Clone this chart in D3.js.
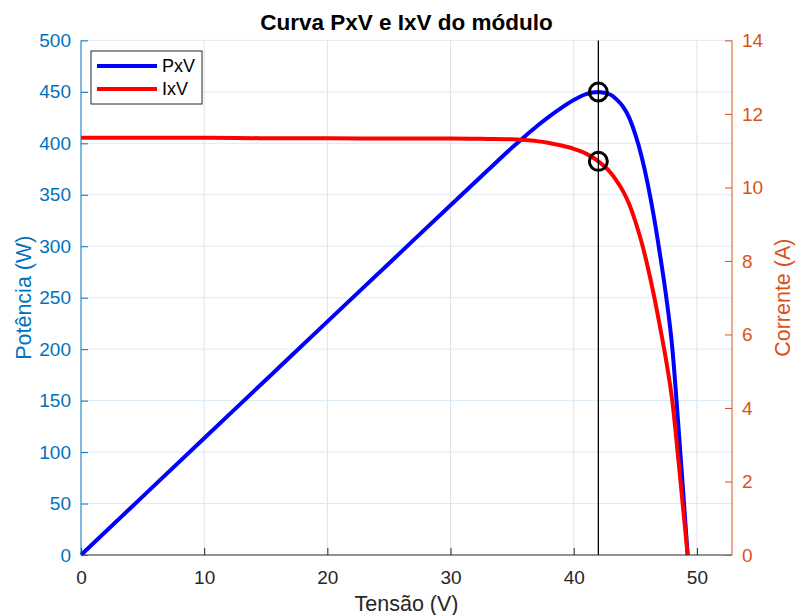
<!DOCTYPE html>
<html>
<head>
<meta charset="utf-8">
<script src="https://cdn.jsdelivr.net/npm/d3@7"></script>
<style>
  html, body { margin: 0; padding: 0; background: #ffffff; }
  svg { display: block; font-family: "Liberation Sans", Arial, Helvetica, sans-serif; }
</style>
</head>
<body>
<svg id="chart" width="796" height="615"></svg>
<script>
// Module operating curve: voltage (V), current (A) and power (W)
const voltage = [0, 5, 10, 15, 20, 25, 30, 33, 35, 36, 37, 38, 39, 40, 41, 42, 43, 43.5, 44, 44.5, 45, 45.5, 46, 46.5, 47, 47.5, 48, 48.5, 49, 49.25];
const current = [11.35, 11.35, 11.35, 11.34, 11.34, 11.33, 11.33, 11.32, 11.31, 11.29, 11.26, 11.21, 11.14, 11.05, 10.92, 10.71, 10.40, 10.17, 9.90, 9.55, 9.08, 8.52, 7.85, 7.08, 6.22, 5.30, 4.20, 2.58, 0.86, 0];
const power   = [0, 56.75, 113.5, 170.1, 226.8, 283.25, 339.9, 373.56, 395.85, 406.44, 416.62, 425.98, 434.46, 442.0, 447.72, 449.82, 447.2, 442.4, 435.6, 424.98, 408.6, 387.66, 361.1, 329.22, 292.34, 251.75, 201.6, 125.13, 42.14, 0];

// Maximum power point
const mppVoltage = 42.0;
const mppPower = 449.8;
const mppCurrent = 10.71;

const xTicks = [0, 10, 20, 30, 40, 50];
const powerTicks = [0, 50, 100, 150, 200, 250, 300, 350, 400, 450, 500];
const currentTicks = [0, 2, 4, 6, 8, 10, 12, 14];

const legendLabels = ["PxV", "IxV"];

const titleText = "Curva PxV e IxV do módulo";
const xLabel = "Tensão (V)";
const leftLabel = "Potência (W)";
const rightLabel = "Corrente (A)";

// ---- layout ----
const W = 796, H = 615;
const plot = { left: 81, right: 732, top: 40.4, bottom: 555 };
const leftColor = "#0072BD";
const rightColor = "#D95319";
const axisGray = "#262626";
const tickFont = 19;
const labelFont = 21.5;

const svg = d3.select("#chart");
svg.append("rect").attr("width", W).attr("height", H).attr("fill", "#ffffff");

const x = d3.scaleLinear().domain([0, 52.85]).range([plot.left, plot.right]);
const yP = d3.scaleLinear().domain([0, 500]).range([plot.bottom, plot.top]);
const yI = d3.scaleLinear().domain([0, 14]).range([plot.bottom, plot.top]);

// ---- grid ----
const grid = svg.append("g");
grid.selectAll("line.gx").data(xTicks.filter(d => d > 0)).join("line")
  .attr("x1", d => x(d)).attr("x2", d => x(d))
  .attr("y1", plot.top).attr("y2", plot.bottom)
  .attr("stroke", "#dfe2e6").attr("stroke-width", 1);
grid.selectAll("line.gy").data(powerTicks.filter(d => d > 0)).join("line")
  .attr("x1", plot.left).attr("x2", plot.right)
  .attr("y1", d => yP(d)).attr("y2", d => yP(d))
  .attr("stroke", "#dcebf6").attr("stroke-width", 1);

// ---- curves ----
const pts = voltage.map((v, i) => ({ v, i: current[i], p: power[i] }));

const powerLine = d3.line().x(d => x(d.v)).y(d => yP(d.p)).curve(d3.curveMonotoneX);
const currentLine = d3.line().x(d => x(d.v)).y(d => yI(d.i)).curve(d3.curveMonotoneX);

svg.append("path").datum(pts).attr("d", powerLine)
  .attr("fill", "none").attr("stroke", "#0000ff").attr("stroke-width", 4)
  .attr("stroke-linejoin", "round");
svg.append("path").datum(pts).attr("d", currentLine)
  .attr("fill", "none").attr("stroke", "#ff0000").attr("stroke-width", 4)
  .attr("stroke-linejoin", "round");

// ---- MPP marker line and circles ----
svg.append("line")
  .attr("x1", x(mppVoltage)).attr("x2", x(mppVoltage))
  .attr("y1", plot.top).attr("y2", plot.bottom)
  .attr("stroke", "#000").attr("stroke-width", 1.3);
svg.append("circle").attr("cx", x(mppVoltage)).attr("cy", yP(mppPower)).attr("r", 9)
  .attr("fill", "none").attr("stroke", "#000").attr("stroke-width", 3);
svg.append("circle").attr("cx", x(mppVoltage)).attr("cy", yI(mppCurrent)).attr("r", 9)
  .attr("fill", "none").attr("stroke", "#000").attr("stroke-width", 3);

// ---- axes ----
function styleAxis(g, color) {
  g.selectAll(".domain").remove();
  g.selectAll(".tick line").attr("stroke", color);
  g.selectAll(".tick text").attr("fill", color)
    .style("font-size", tickFont + "px")
    .style("font-family", "'Liberation Sans', Arial, sans-serif");
}

const gx = svg.append("g").attr("transform", `translate(0,${plot.bottom})`)
  .call(d3.axisBottom(x).tickValues(xTicks).tickSizeInner(-7).tickSizeOuter(0).tickPadding(16));
styleAxis(gx, axisGray);
gx.append("line").attr("x1", plot.left).attr("x2", plot.right).attr("y1", 0).attr("y2", 0)
  .attr("stroke", axisGray).attr("stroke-width", 1);

const gl = svg.append("g").attr("transform", `translate(${plot.left},0)`)
  .call(d3.axisLeft(yP).tickValues(powerTicks).tickSizeInner(-7).tickSizeOuter(0).tickPadding(10));
styleAxis(gl, leftColor);
gl.append("line").attr("x1", 0).attr("x2", 0).attr("y1", plot.top).attr("y2", plot.bottom)
  .attr("stroke", leftColor).attr("stroke-width", 1);

const gr = svg.append("g").attr("transform", `translate(${plot.right},0)`)
  .call(d3.axisRight(yI).tickValues(currentTicks).tickSizeInner(-7).tickSizeOuter(0).tickPadding(10));
styleAxis(gr, rightColor);
gr.append("line").attr("x1", 0).attr("x2", 0).attr("y1", plot.top).attr("y2", plot.bottom)
  .attr("stroke", rightColor).attr("stroke-width", 1);

// ---- labels ----
svg.append("text").attr("x", (plot.left + plot.right) / 2).attr("y", 30)
  .attr("text-anchor", "middle").attr("font-weight", "bold")
  .style("font-size", "22.5px").attr("fill", "#000").text(titleText);

svg.append("text").attr("x", (plot.left + plot.right) / 2).attr("y", 611)
  .attr("text-anchor", "middle").style("font-size", labelFont + "px")
  .attr("fill", axisGray).text(xLabel);

svg.append("text").attr("transform", `translate(31,${(plot.top + plot.bottom) / 2}) rotate(-90)`)
  .attr("text-anchor", "middle").style("font-size", labelFont + "px")
  .attr("fill", leftColor).text(leftLabel);

svg.append("text").attr("transform", `translate(790,${(plot.top + plot.bottom) / 2}) rotate(-90)`)
  .attr("text-anchor", "middle").style("font-size", labelFont + "px")
  .attr("fill", rightColor).text(rightLabel);

// ---- legend ----
const legend = svg.append("g").attr("transform", "translate(91,51)");
legend.append("rect").attr("width", 111).attr("height", 53)
  .attr("fill", "#ffffff").attr("stroke", "#262626").attr("stroke-width", 1);
const legendColors = ["#0000ff", "#ff0000"];
legendLabels.forEach((lab, k) => {
  const cy = 15 + k * 23;
  legend.append("line").attr("x1", 6).attr("x2", 66).attr("y1", cy).attr("y2", cy)
    .attr("stroke", legendColors[k]).attr("stroke-width", 4);
  legend.append("text").attr("x", 71).attr("y", cy).attr("dy", "0.35em")
    .style("font-size", "18px").attr("fill", "#000").text(lab);
});
</script>
</body>
</html>
